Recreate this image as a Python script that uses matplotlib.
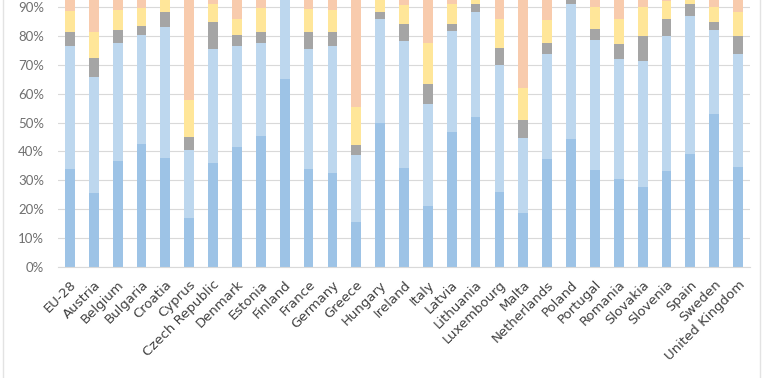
import numpy as np
import matplotlib.pyplot as plt
from matplotlib.lines import Line2D

countries = ["EU-28", "Austria", "Belgium", "Bulgaria", "Croatia", "Cyprus",
             "Czech Republic", "Denmark", "Estonia", "Finland", "France",
             "Germany", "Greece", "Hungary", "Ireland", "Italy", "Latvia",
             "Lithuania", "Luxembourg", "Malta", "Netherlands", "Poland",
             "Portugal", "Romania", "Slovakia", "Slovenia", "Spain", "Sweden",
             "United Kingdom"]

# shares in % (bottom -> top)
dark = [33.8, 25.7, 36.8, 42.6, 37.8, 17.1, 36.1, 41.6, 45.3, 65.1, 33.9,
        32.6, 15.5, 49.9, 34.4, 21.1, 46.6, 52.0, 25.8, 18.6, 37.3, 44.3,
        33.6, 30.3, 27.6, 33.2, 39.0, 52.8, 34.7]
light = [42.7, 40.1, 40.6, 37.7, 45.3, 23.4, 39.3, 34.9, 32.1, 29.9, 41.5,
         43.9, 23.3, 35.9, 43.9, 35.3, 35.2, 36.4, 44.0, 25.9, 36.4, 46.7,
         44.9, 41.6, 43.7, 46.7, 47.9, 29.2, 39.0]
grey = [4.7, 6.4, 4.6, 3.1, 5.0, 4.6, 9.5, 3.8, 3.8, 1.0, 5.8, 4.7, 3.4, 2.3,
        5.8, 6.9, 2.3, 2.6, 6.1, 6.5, 3.9, 1.5, 3.9, 5.1, 8.6, 5.8, 4.1, 2.9,
        6.2]
yellow = [7.4, 9.2, 6.9, 6.1, 5.0, 12.7, 6.1, 5.5, 8.3, 2.0, 8.1, 7.7, 13.3,
          4.9, 6.6, 14.1, 6.9, 2.5, 9.9, 10.8, 7.9, 2.5, 7.5, 8.8, 10.0, 6.3,
          2.5, 5.0, 8.3]
peach = [11.4, 18.6, 11.1, 10.5, 6.9, 42.2, 9.0, 14.2, 10.5, 2.0, 10.7, 11.1,
         44.5, 7.0, 9.3, 22.6, 9.0, 6.5, 14.2, 38.2, 14.5, 5.0, 10.1, 14.2,
         10.1, 8.0, 6.5, 10.1, 11.8]

colors = ["#9dc3e6", "#bdd7ee", "#a5a5a5", "#ffe699", "#f8cbad"]

fig = plt.figure(figsize=(7.68, 3.78), dpi=100)
ax = fig.add_axes([58/768, (378-267)/378, (750-58)/768, 267/378])

x = np.arange(len(countries))
bottom = np.zeros(len(countries))
for vals, c in zip([dark, light, grey, yellow, peach], colors):
    v = np.array(vals) / 100
    ax.bar(x, v, 0.41, bottom=bottom, color=c, zorder=2)
    bottom += v

ax.set_xlim(-0.5, len(countries) - 0.5)
ax.set_ylim(0, 0.924)
ax.set_yticks(np.arange(0, 0.91, 0.1))
ax.set_yticklabels([f"{int(round(t*100))}%" for t in np.arange(0, 0.91, 0.1)],
                   fontsize=9.5, color="#6f6f6f", family="Lato")
ax.yaxis.grid(True, color="#d9d9d9", lw=0.8, zorder=0)
ax.set_xticks(x)
ax.set_xticklabels(countries, rotation=45, ha="right", rotation_mode="anchor",
                   fontsize=9.5, color="#404040")
ax.tick_params(length=0)
ax.tick_params(axis="x", pad=8)
ax.tick_params(axis="y", pad=10)
for s in ["top", "right", "left"]:
    ax.spines[s].set_visible(False)
ax.spines["bottom"].set_color("#d9d9d9")

fig.add_artist(Line2D([3/768, 3/768], [0, 1], color="#e3e3e3", lw=1))
fig.add_artist(Line2D([760/768, 760/768], [0, 1], color="#e3e3e3", lw=1))

fig.savefig("out.png", dpi=100)
